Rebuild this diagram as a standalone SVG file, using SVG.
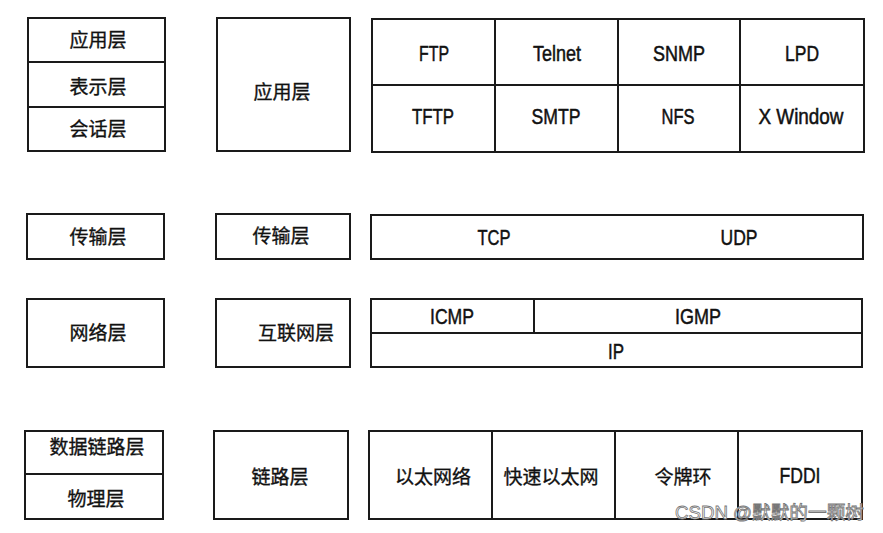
<svg xmlns="http://www.w3.org/2000/svg" width="883" height="533" viewBox="0 0 883 533">
<style>
.b{fill:none;stroke:#1a1a1a;stroke-width:2}
.l{stroke:#1a1a1a;stroke-width:2}
.cn{font-family:"Noto Sans CJK SC","Noto Sans",sans-serif;font-size:19px;fill:#111;stroke:#111;stroke-width:0.35;text-anchor:middle;dominant-baseline:central}
.en{font-family:"Liberation Sans",Arial,sans-serif;font-size:22px;fill:#111;stroke:#111;stroke-width:0.5;text-anchor:middle}
.wm{font-family:"Liberation Sans","Noto Sans CJK SC",sans-serif;font-size:18px;fill:#fff;stroke:#777;stroke-width:0.8}
</style>
<rect width="883" height="533" fill="#fff"/>
<g id="osi-app">
<rect class="b" x="28" y="18" width="137" height="133"/>
<line class="l" x1="28" y1="62" x2="165" y2="62"/>
<line class="l" x1="28" y1="107" x2="165" y2="107"/>
<text class="cn" x="98" y="38.5">应用层</text>
<text class="cn" x="98" y="85.5">表示层</text>
<text class="cn" x="98" y="127.5">会话层</text>
</g>
<g id="tcpip-app">
<rect class="b" x="217" y="18" width="133" height="133"/>
<text class="cn" x="282" y="90">应用层</text>
</g>
<g id="protocols-app">
<rect class="b" x="372" y="19" width="492" height="133"/>
<line class="l" x1="372" y1="85" x2="864" y2="85"/>
<line class="l" x1="495" y1="19" x2="495" y2="152"/>
<line class="l" x1="618" y1="19" x2="618" y2="152"/>
<line class="l" x1="740" y1="19" x2="740" y2="152"/>
<text class="en" x="434" y="61" textLength="30" lengthAdjust="spacingAndGlyphs">FTP</text>
<text class="en" x="557" y="61" textLength="48" lengthAdjust="spacingAndGlyphs">Telnet</text>
<text class="en" x="679" y="61" textLength="52" lengthAdjust="spacingAndGlyphs">SNMP</text>
<text class="en" x="802" y="61" textLength="34" lengthAdjust="spacingAndGlyphs">LPD</text>
<text class="en" x="433" y="124" textLength="42" lengthAdjust="spacingAndGlyphs">TFTP</text>
<text class="en" x="556" y="124" textLength="49" lengthAdjust="spacingAndGlyphs">SMTP</text>
<text class="en" x="678" y="124" textLength="33" lengthAdjust="spacingAndGlyphs">NFS</text>
<text class="en" x="801" y="124" textLength="85" lengthAdjust="spacingAndGlyphs">X Window</text>
</g>
<g id="osi-transport">
<rect class="b" x="27" y="214" width="137" height="45"/>
<text class="cn" x="98" y="235.5">传输层</text>
</g>
<g id="tcpip-transport">
<rect class="b" x="216" y="214" width="134" height="45"/>
<text class="cn" x="281" y="234.5">传输层</text>
</g>
<g id="protocols-transport">
<rect class="b" x="371" y="215" width="492" height="44"/>
<text class="en" x="494" y="245" textLength="33" lengthAdjust="spacingAndGlyphs">TCP</text>
<text class="en" x="739" y="245" textLength="37" lengthAdjust="spacingAndGlyphs">UDP</text>
</g>
<g id="osi-network">
<rect class="b" x="27" y="299" width="137" height="68"/>
<text class="cn" x="98" y="331">网络层</text>
</g>
<g id="tcpip-internet">
<rect class="b" x="216" y="299" width="134" height="68"/>
<text class="cn" x="296" y="331">互联网层</text>
</g>
<g id="protocols-internet">
<rect class="b" x="371" y="299" width="491" height="68"/>
<line class="l" x1="371" y1="333" x2="862" y2="333"/>
<line class="l" x1="534" y1="299" x2="534" y2="333"/>
<text class="en" x="452" y="324" textLength="44" lengthAdjust="spacingAndGlyphs">ICMP</text>
<text class="en" x="698" y="324" textLength="46" lengthAdjust="spacingAndGlyphs">IGMP</text>
<text class="en" x="616" y="359" textLength="16" lengthAdjust="spacingAndGlyphs">IP</text>
</g>
<g id="osi-link">
<rect class="b" x="25" y="431" width="138" height="88"/>
<line class="l" x1="25" y1="474" x2="163" y2="474"/>
<text class="cn" x="97" y="445.5">数据链路层</text>
<text class="cn" x="96" y="497.5">物理层</text>
</g>
<g id="tcpip-link">
<rect class="b" x="214" y="431" width="134" height="88"/>
<text class="cn" x="280" y="475">链路层</text>
</g>
<g id="protocols-link">
<rect class="b" x="369" y="431" width="493" height="88"/>
<line class="l" x1="492" y1="431" x2="492" y2="519"/>
<line class="l" x1="615" y1="431" x2="615" y2="519"/>
<line class="l" x1="738" y1="431" x2="738" y2="519"/>
<text class="cn" x="433" y="475">以太网络</text>
<text class="cn" x="551" y="475">快速以太网</text>
<text class="cn" x="683" y="475">令牌环</text>
<text class="en" x="800" y="483" textLength="41" lengthAdjust="spacingAndGlyphs">FDDI</text>
</g>
<g id="connectors"></g>
<text class="wm" x="675" y="519" textLength="189" lengthAdjust="spacingAndGlyphs">CSDN @默默的一颗树</text>
</svg>
